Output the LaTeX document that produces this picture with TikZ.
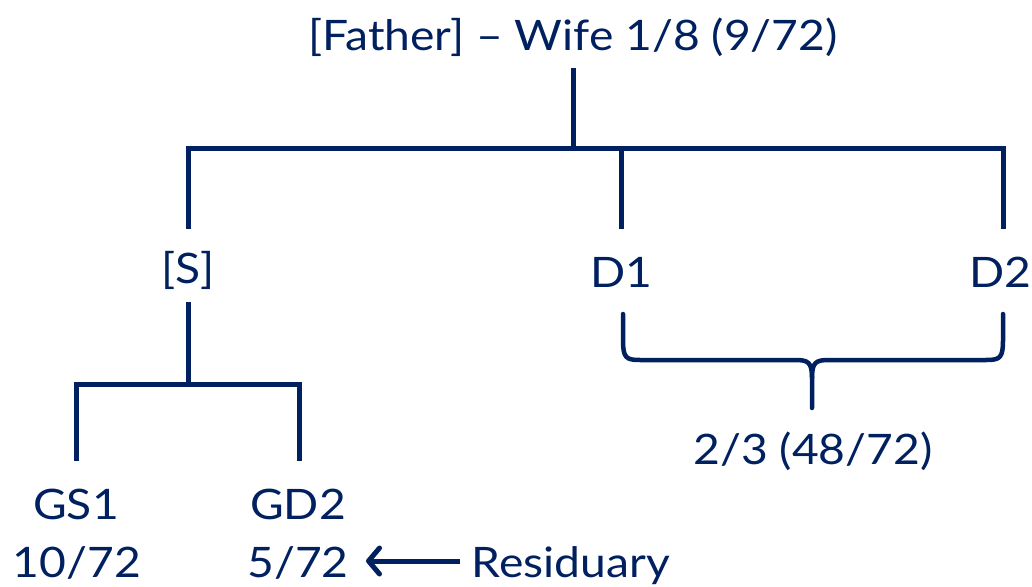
\documentclass[tikz,border=0pt]{standalone}
\usepackage{fontspec}
\setmainfont{Lato}[FakeStretch=1.1]
\usetikzlibrary{arrows.meta}
\definecolor{navy}{HTML}{002060}
\tikzset{
  lbl/.style={text=navy, font=\fontsize{42}{46}\selectfont, anchor=base, inner sep=0pt},
  tree/.style={draw=navy, line width=5pt},
  brace/.style={draw=navy, line width=4.5pt, line cap=round, line join=round},
  pointer/.style={draw=navy, line width=5pt, -{Straight Barb[length=11pt,width=26pt,round]}}
}
\begin{document}
\begin{tikzpicture}[x=1pt,y=-1pt]
  \useasboundingbox (0,0) rectangle (1032,586);

  % labels
  \node[lbl] (top) at (573,50) {[Father] -- Wife 1/8 (9/72)};
  \node[lbl] (s)   at (188,283) {[S]};
  \node[lbl] (d1)  at (621,287) {D1};
  \node[lbl] (d2)  at (1000,287) {D2};
  \node[lbl] (gs1) at (76,519) {GS1};
  \node[lbl] (gd2) at (298,519) {GD2};
  \node[lbl] (v1)  at (77,577) {10/72};
  \node[lbl] (v2)  at (298,577) {5/72};
  \node[lbl] (res) at (571,577) {Residuary};
  \node[lbl] (dd)  at (813,464) {2/3 (48/72)};

  % first generation
  \coordinate (t0) at (573,68);
  \coordinate (bar) at (573,148);
  \draw[tree] (t0) -- (bar);
  \draw[tree] (186,148) -- (1005.5,148);
  \draw[tree] (188,148) -- (188,229);
  \draw[tree] (621,148) -- (621,229);
  \draw[tree] (1003,148) -- (1003,229);

  % children of [S]
  \draw[tree] (188,302) -- (188,384);
  \draw[tree] (73.5,384) -- (301.5,384);
  \draw[tree] (76,384) -- (76,461);
  \draw[tree] (299,384) -- (299,461);

  % brace joining D1 and D2
  \draw[brace] (623,314) -- (623,340) .. controls (623,358) and (626,360) .. (640,360)
    -- (795,360) .. controls (808,360) and (812,362) .. (812,378) -- (812,408);
  \draw[brace] (1003,314) -- (1003,340) .. controls (1003,358) and (1000,360) .. (986,360)
    -- (829,360) .. controls (816,360) and (812,362) .. (812,378);

  % residuary pointer
  \coordinate (pstart) at (460,561);
  \coordinate (pend) at (366,561);
  \draw[pointer] (pstart) -- (pend);
\end{tikzpicture}
\end{document}
